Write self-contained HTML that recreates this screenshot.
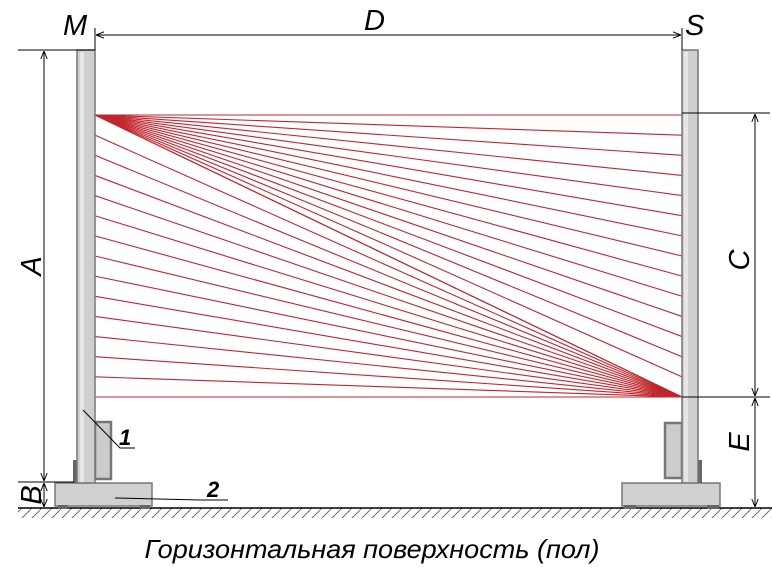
<!DOCTYPE html>
<html><head><meta charset="utf-8"><style>
html,body{margin:0;padding:0;background:#fff;}
svg{display:block;}
text{font-family:"Liberation Sans",sans-serif;font-style:italic;}
</style></head><body>
<svg id="s" width="772" height="578" viewBox="0 0 772 578" xmlns="http://www.w3.org/2000/svg">
<defs>
<pattern id="h" width="10" height="10" patternUnits="userSpaceOnUse"><line x1="0" y1="10" x2="10" y2="0" stroke="#555" stroke-width="0.8"/></pattern>
<marker id="a" viewBox="0 0 10 10" refX="10" refY="5" markerWidth="8" markerHeight="8" orient="auto-start-reverse"><path d="M0,1 L10,5 L0,9" fill="none" stroke="#000" stroke-width="1.2"/></marker>
</defs>
<rect x="18" y="508" width="754" height="10" fill="url(#h)"/>
<line x1="18" y1="508" x2="772" y2="508" stroke="#000" stroke-width="1.5"/>
<g id="rays" stroke="#c0262d" stroke-width="1.1"></g>
<!-- left post -->
<rect x="55" y="483" width="97" height="23" fill="#d0d0d0" stroke="#777" stroke-width="1.5"/>
<rect x="58" y="505" width="10" height="4" fill="#666"/><rect x="140" y="505" width="10" height="4" fill="#666"/>
<rect x="73" y="460" width="4" height="23" fill="#666"/>
<rect x="95" y="422" width="16" height="57" fill="#ccc" stroke="#777" stroke-width="2.5"/>
<rect x="77" y="50" width="18" height="433" fill="#cfcfcf" stroke="#777" stroke-width="1.5"/>
<rect x="80" y="52" width="4" height="430" fill="#e6e6e6"/>
<!-- right post -->
<rect x="622" y="483" width="98" height="23" fill="#d0d0d0" stroke="#777" stroke-width="1.5"/>
<rect x="624" y="505" width="12" height="4" fill="#666"/><rect x="707" y="505" width="12" height="4" fill="#666"/>
<rect x="698" y="460" width="4" height="23" fill="#666"/>
<rect x="665" y="423" width="17" height="55" fill="#ccc" stroke="#777" stroke-width="2.5"/>
<rect x="682" y="50" width="16" height="433" fill="#cfcfcf" stroke="#777" stroke-width="1.5"/>
<rect x="684" y="52" width="4" height="430" fill="#e6e6e6"/>
<!-- dimensions -->
<g stroke="#000" stroke-width="1" fill="none">
<line x1="18" y1="50" x2="95" y2="50"/>
<line x1="95" y1="28" x2="95" y2="50"/>
<line x1="682" y1="28" x2="682" y2="50"/>
<line x1="96" y1="35" x2="681" y2="35" marker-start="url(#a)" marker-end="url(#a)"/>
<line x1="44" y1="51" x2="44" y2="481" marker-start="url(#a)" marker-end="url(#a)"/>
<line x1="18" y1="482" x2="74" y2="482"/>
<line x1="44" y1="483" x2="44" y2="507" marker-start="url(#a)" marker-end="url(#a)"/>
<line x1="682" y1="113" x2="770" y2="113"/>
<line x1="682" y1="397" x2="770" y2="397"/>
<line x1="755" y1="114" x2="755" y2="396" marker-start="url(#a)" marker-end="url(#a)"/>
<line x1="755" y1="398" x2="755" y2="507" marker-start="url(#a)" marker-end="url(#a)"/>
<polyline points="83,410 120,448 135,448"/>
<polyline points="115,498 200,500 228,500"/>
</g>
<text x="63" y="35" font-size="29">M</text>
<text x="364" y="30" font-size="29">D</text>
<text x="685" y="35" font-size="29">S</text>
<text transform="translate(41,266) rotate(-90)" font-size="29" text-anchor="middle">A</text>
<text transform="translate(41,495) rotate(-90)" font-size="29" text-anchor="middle">B</text>
<text transform="translate(749,260) rotate(-90)" font-size="29" text-anchor="middle">C</text>
<text transform="translate(749,442) rotate(-90)" font-size="29" text-anchor="middle">E</text>
<text x="119" y="445" font-size="22" font-weight="bold" font-style="normal">1</text>
<text x="207" y="497" font-size="22" font-weight="bold" font-style="normal">2</text>
<text x="372" y="558" font-size="26" text-anchor="middle" textLength="455" lengthAdjust="spacingAndGlyphs">Горизонтальная поверхность (пол)</text>
</svg>
<script>
var g=document.getElementById('rays'),n=15,s='';
for(var i=0;i<n;i++){var y=115+i*(282/(n-1));
s+='<line x1="95" y1="115" x2="682" y2="'+y+'"/>';
s+='<line x1="682" y1="397" x2="95" y2="'+y+'"/>';}
g.innerHTML=s;
</script>
</body></html>
